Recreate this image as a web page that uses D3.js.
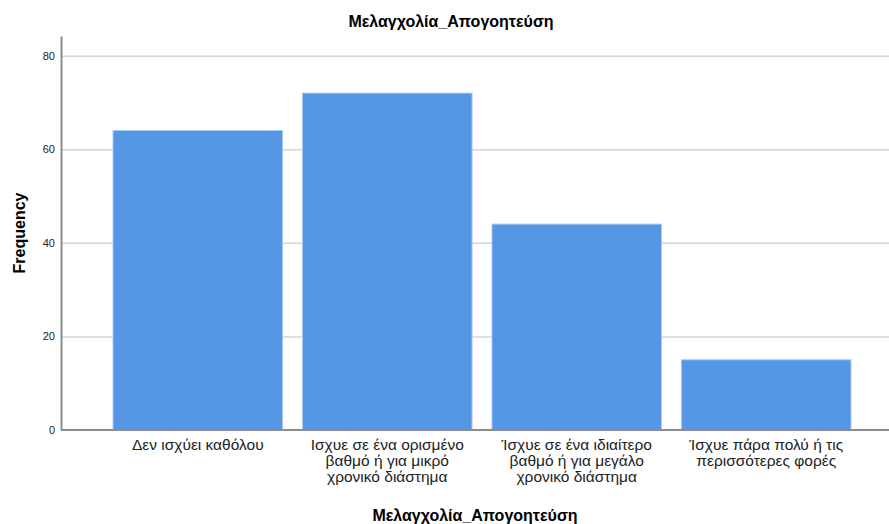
<html>
<head>
<script src="https://d3js.org/d3.v7.min.js"></script>
<style>
    body { margin: 0; background: #fff; }
    svg { font-family: "Liberation Sans", Arial, sans-serif; }
    .grid line { stroke: #d6d6d6; stroke-width: 1.5px; }
    .grid path { display: none; }
    rect.bar { fill: #5596e5; stroke: #a9cbf3; stroke-width: 1px; }
</style>
</head>
<body>
<svg id="chart" width="889" height="524"></svg>
<script>
    var categories = [
        ['Δεν ισχύει καθόλου'],
        ['Ισχυε σε ένα ορισμένο', 'βαθμό ή για μικρό', 'χρονικό διάστημα'],
        ['Ίσχυε σε ένα ιδιαίτερο', 'βαθμό ή για μεγάλο', 'χρονικό διάστημα'],
        ['Ίσχυε πάρα πολύ ή τις', 'περισσότερες φορές']
    ];
    var frequency = [64, 72, 44, 15];
    var yTicks = [0, 20, 40, 60, 80];
    var title = 'Μελαγχολία_Απογοητεύση';

    var svg = d3.select('#chart');
    var plotLeft = 61, plotRight = 889, plotTop = 36, plotBottom = 430;

    var x = d3.scaleBand()
        .domain(d3.range(categories.length))
        .range([113, 851])
        .paddingInner(0.105)
        .paddingOuter(0);

    var y = d3.scaleLinear()
        .domain([0, 84.2])
        .range([plotBottom, plotTop]);

    // gridlines
    svg.append('g')
        .attr('class', 'grid')
        .attr('transform', 'translate(' + plotLeft + ',0)')
        .call(d3.axisRight(y).tickValues(yTicks.slice(1)).tickSize(plotRight - plotLeft).tickFormat(''));

    // bars
    svg.selectAll('rect.bar')
        .data(frequency)
        .enter().append('rect')
        .attr('class', 'bar')
        .attr('x', function(d, i) { return x(i); })
        .attr('width', x.bandwidth())
        .attr('y', function(d) { return y(d); })
        .attr('height', function(d) { return plotBottom - y(d); });

    // y axis
    var yAxis = svg.append('g')
        .attr('transform', 'translate(' + plotLeft + ',0)')
        .call(d3.axisLeft(y).tickValues(yTicks).tickSize(0).tickPadding(6));
    yAxis.select('.domain').attr('stroke', '#8c8c8c').attr('stroke-width', 2);
    yAxis.selectAll('text').attr('font-size', 11).attr('fill', '#222').attr('font-family', 'Liberation Sans, Arial');

    // x baseline
    svg.append('line')
        .attr('x1', plotLeft).attr('x2', plotRight)
        .attr('y1', plotBottom).attr('y2', plotBottom)
        .attr('stroke', '#8c8c8c').attr('stroke-width', 2);

    // category labels
    var lab = svg.selectAll('text.cat')
        .data(categories)
        .enter().append('text')
        .attr('class', 'cat')
        .attr('text-anchor', 'middle')
        .attr('font-size', 15.5)
        .attr('fill', '#222')
        .attr('transform', function(d, i) { return 'translate(' + (x(i) + x.bandwidth() / 2) + ',' + (plotBottom + 20) + ')'; });
    lab.selectAll('tspan')
        .data(function(d) { return d; })
        .enter().append('tspan')
        .attr('x', 0)
        .attr('dy', function(d, i) { return i === 0 ? 0 : 16; })
        .text(function(d) { return d; });

    // titles
    svg.append('text')
        .attr('x', 451).attr('y', 27)
        .attr('text-anchor', 'middle')
        .attr('font-size', 16).attr('font-weight', 'bold')
        .text(title);

    svg.append('text')
        .attr('x', 475).attr('y', 521)
        .attr('text-anchor', 'middle')
        .attr('font-size', 16).attr('font-weight', 'bold')
        .text(title);

    svg.append('text')
        .attr('transform', 'translate(25,233) rotate(-90)')
        .attr('text-anchor', 'middle')
        .attr('font-size', 16).attr('font-weight', 'bold')
        .text('Frequency');
</script>
</body>
</html>
